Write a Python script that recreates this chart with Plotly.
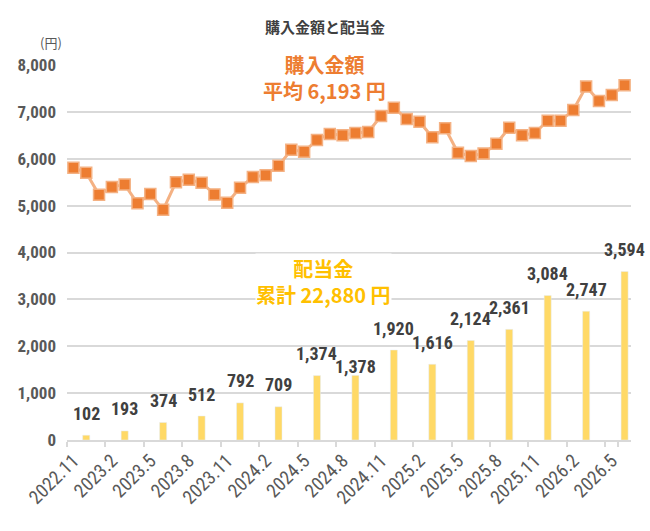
import plotly.graph_objects as go

months = ["2022.11", "2022.12",
          "2023.1", "2023.2", "2023.3", "2023.4", "2023.5", "2023.6",
          "2023.7", "2023.8", "2023.9", "2023.10", "2023.11", "2023.12",
          "2024.1", "2024.2", "2024.3", "2024.4", "2024.5", "2024.6",
          "2024.7", "2024.8", "2024.9", "2024.10", "2024.11", "2024.12",
          "2025.1", "2025.2", "2025.3", "2025.4", "2025.5", "2025.6",
          "2025.7", "2025.8", "2025.9", "2025.10", "2025.11", "2025.12",
          "2026.1", "2026.2", "2026.3", "2026.4", "2026.5", "2026.6"]

purchase = [5810, 5700, 5230, 5400, 5450, 5050, 5250, 4910, 5500, 5550,
            5490, 5240, 5060, 5380, 5610, 5650, 5850, 6190, 6150, 6400,
            6530, 6500, 6550, 6570, 6910, 7090, 6850, 6790, 6460, 6650,
            6130, 6060, 6110, 6320, 6660, 6500, 6550, 6810, 6810, 7040,
            7540, 7230, 7360, 7570]

dividend_months = ["2022.12", "2023.3", "2023.6", "2023.9", "2023.12",
                   "2024.3", "2024.6", "2024.9", "2024.12", "2025.3",
                   "2025.6", "2025.9", "2025.12", "2026.3", "2026.6"]
dividends = [102, 193, 374, 512, 792, 709, 1374, 1378, 1920, 1616,
             2124, 2361, 3084, 2747, 3594]

tick_labels = months[::3]

avg_purchase = 6193
total_dividend = 22880

NUM_FONT = "Liberation Sans Narrow, Arial Narrow, Roboto Condensed, Liberation Sans, sans-serif"
JP_FONT = "Noto Sans CJK JP, Noto Sans, sans-serif"

fig = go.Figure()
fig.add_trace(go.Bar(
    x=dividend_months, y=dividends, marker_color="#FFD966",
    width=0.55, showlegend=False, hoverinfo="x+y"))
fig.add_trace(go.Scatter(
    x=months, y=purchase, mode="lines+markers",
    line=dict(color="#F4B183", width=3),
    marker=dict(symbol="square", size=11, color="#ED7D31",
                line=dict(color="#F4B183", width=1.5)),
    showlegend=False))

# bar value labels (x given as category index so "2022.12"-like strings are not parsed as numbers)
label_shift = {7: 9}
for i, (m, v) in enumerate(zip(dividend_months, dividends)):
    fig.add_annotation(x=months.index(m), y=v, text=f"{v:,}", showarrow=False,
                       xanchor="center", yanchor="middle", yshift=label_shift.get(i, 22),
                       font=dict(family=NUM_FONT, size=18, color="#404040", weight="bold"))

def note(x, y, text, size, color, bold=False, bg=None):
    fig.add_annotation(xref="paper", yref="paper", x=x, y=y, text=text,
                       showarrow=False, xanchor="center", yanchor="middle",
                       bgcolor=bg, borderpad=0,
                       font=dict(family=JP_FONT, size=size, color=color,
                                 weight="bold" if bold else "normal"))

note(-0.028, 1.061, "(円)", 13, "#595959")
note(0.457, 0.967, f"購入金額<br>平均 {avg_purchase:,} 円", 20, "#ED7D31", True, "white")
note(0.454, 0.423, f"配当金<br>累計 {total_dividend:,} 円", 20, "#FFC000", True, "white")

fig.update_layout(
    width=650, height=531,
    margin=dict(l=67, r=19, t=65, b=91),
    paper_bgcolor="white", plot_bgcolor="white",
    title=dict(text="購入金額と配当金", x=0.5, xanchor="center",
               y=1 - 28 / 531, yanchor="middle",
               font=dict(family=JP_FONT, size=15, color="#404040", weight="bold")),
)
fig.update_xaxes(
    type="category", categoryorder="array", categoryarray=months,
    range=[-0.5, len(months) - 0.5],
    tickmode="array", tickvals=tick_labels, ticktext=tick_labels,
    tickson="boundaries", ticks="outside", ticklen=5, tickwidth=2,
    tickcolor="#D9D9D9", showline=True, linecolor="#D9D9D9", linewidth=2,
    showgrid=False, tickangle=-45,
    tickfont=dict(family=NUM_FONT, size=19, color="#595959"))
fig.update_yaxes(
    range=[0, 8000], dtick=1000, tickformat=",", showgrid=True,
    gridcolor="#D9D9D9", gridwidth=2, zeroline=False, ticks="",
    ticklabelstandoff=10,
    tickfont=dict(family=NUM_FONT, size=17, color="#595959", weight="bold"))

fig.write_html("out.html")
